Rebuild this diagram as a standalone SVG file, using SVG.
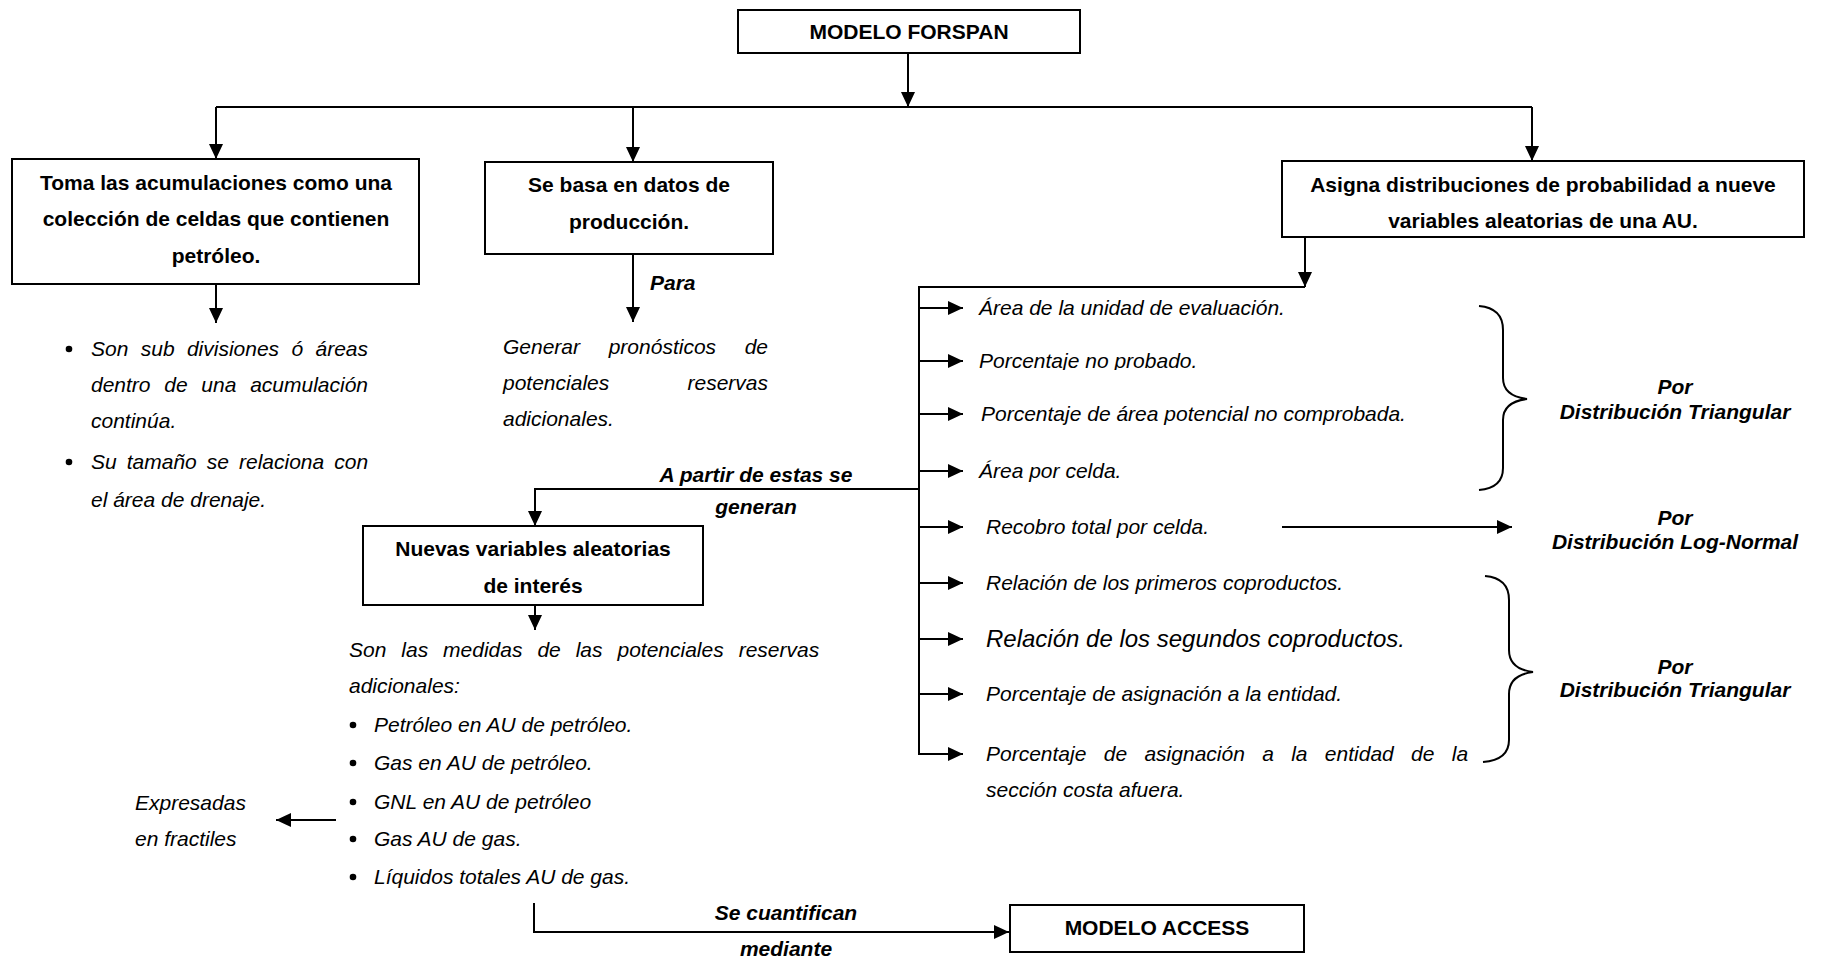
<svg xmlns="http://www.w3.org/2000/svg" width="1824" height="960" viewBox="0 0 1824 960">
<style>
.box{fill:#fff;stroke:#000;stroke-width:2}
.ln{fill:none;stroke:#000;stroke-width:2}
.b{font-family:"Liberation Sans",Arial,sans-serif;font-weight:bold;font-size:21px;fill:#000}
.bc{font-family:"Liberation Sans",Arial,sans-serif;font-weight:bold;font-size:21px;fill:#000;text-anchor:middle}
.bi{font-family:"Liberation Sans",Arial,sans-serif;font-weight:bold;font-style:italic;font-size:21px;fill:#000}
.bic{font-family:"Liberation Sans",Arial,sans-serif;font-weight:bold;font-style:italic;font-size:21px;fill:#000;text-anchor:middle}
.i{font-family:"Liberation Sans",Arial,sans-serif;font-style:italic;font-size:21px;fill:#000}
</style>
<defs>
<marker id="ah" markerUnits="userSpaceOnUse" markerWidth="16" markerHeight="16" refX="15" refY="7" orient="auto" viewBox="0 0 16 14">
<path d="M0,0 L15,7 L0,14 Z" fill="#000"/>
</marker>
<clipPath id="cut1"><rect x="970" y="290" width="400" height="28"/></clipPath>
<clipPath id="cut2"><rect x="970" y="345" width="400" height="25"/></clipPath>
</defs>

<g id="connectors">
<line class="ln" x1="908" y1="53" x2="908" y2="107" marker-end="url(#ah)"/>
<line class="ln" x1="216" y1="107" x2="1532" y2="107"/>
<line class="ln" x1="216" y1="107" x2="216" y2="159" marker-end="url(#ah)"/>
<line class="ln" x1="633" y1="107" x2="633" y2="162" marker-end="url(#ah)"/>
<line class="ln" x1="1532" y1="107" x2="1532" y2="161" marker-end="url(#ah)"/>
<line class="ln" x1="216" y1="284" x2="216" y2="323" marker-end="url(#ah)"/>
<line class="ln" x1="633" y1="254" x2="633" y2="322" marker-end="url(#ah)"/>
<line class="ln" x1="1305" y1="237" x2="1305" y2="287" marker-end="url(#ah)"/>
<polyline class="ln" points="1305,287 919,287 919,754 963,754" marker-end="url(#ah)"/>
<line class="ln" x1="919" y1="308" x2="963" y2="308" marker-end="url(#ah)"/>
<line class="ln" x1="919" y1="361" x2="963" y2="361" marker-end="url(#ah)"/>
<line class="ln" x1="919" y1="414" x2="963" y2="414" marker-end="url(#ah)"/>
<line class="ln" x1="919" y1="471" x2="963" y2="471" marker-end="url(#ah)"/>
<line class="ln" x1="919" y1="527" x2="963" y2="527" marker-end="url(#ah)"/>
<line class="ln" x1="919" y1="583" x2="963" y2="583" marker-end="url(#ah)"/>
<line class="ln" x1="919" y1="639" x2="963" y2="639" marker-end="url(#ah)"/>
<line class="ln" x1="919" y1="694" x2="963" y2="694" marker-end="url(#ah)"/>
<line class="ln" x1="1282" y1="527" x2="1512" y2="527" marker-end="url(#ah)"/>
<polyline class="ln" points="919,489 535,489 535,526" marker-end="url(#ah)"/>
<line class="ln" x1="535" y1="605" x2="535" y2="630" marker-end="url(#ah)"/>
<line class="ln" x1="336" y1="820" x2="276" y2="820" marker-end="url(#ah)"/>
<polyline class="ln" points="534,903 534,932 1009,932" marker-end="url(#ah)"/>
<path class="ln" d="M1479,306 Q1503,308 1503,330 L1503,378 Q1503,396 1527,399 Q1503,402 1503,420 L1503,468 Q1503,488 1479,490"/>
<path class="ln" d="M1485,576 Q1509,578 1509,600 L1509,650 Q1509,669 1533,672 Q1509,675 1509,694 L1509,740 Q1509,760 1483,762"/>
</g>

<g id="modelo-forspan">
<rect class="box" x="738" y="10" width="342" height="43"/>
<text class="bc" x="909" y="39">MODELO FORSPAN</text>
</g>

<g id="toma-acumulaciones">
<rect class="box" x="12" y="159" width="407" height="125"/>
<text class="bc" x="216" y="190">Toma las acumulaciones como una</text>
<text class="bc" x="216" y="226">colección de celdas que contienen</text>
<text class="bc" x="216" y="263">petróleo.</text>
</g>

<g id="celdas-notas">
<circle cx="69" cy="349" r="3.3"/>
<text class="i" x="91" y="356" word-spacing="6.5">Son sub divisiones ó áreas</text>
<text class="i" x="91" y="392" word-spacing="7.9">dentro de una acumulación</text>
<text class="i" x="91" y="428">continúa.</text>
<circle cx="69" cy="462" r="3.3"/>
<text class="i" x="91" y="469" word-spacing="4.2">Su tamaño se relaciona con</text>
<text class="i" x="91" y="507">el área de drenaje.</text>
</g>

<g id="datos-produccion">
<rect class="box" x="485" y="162" width="288" height="92"/>
<text class="bc" x="629" y="192">Se basa en datos de</text>
<text class="bc" x="629" y="229">producción.</text>
</g>

<g id="para-label"><text class="bi" x="650" y="290">Para</text></g>

<g id="pronosticos">
<text class="i" x="503" y="354" word-spacing="22.8">Generar pronósticos de</text>
<text class="i" x="503" y="390" word-spacing="72.4">potenciales reservas</text>
<text class="i" x="503" y="426">adicionales.</text>
</g>

<g id="asigna-distribuciones">
<rect class="box" x="1282" y="161" width="522" height="76"/>
<text class="bc" x="1543" y="192">Asigna distribuciones de probabilidad a nueve</text>
<text class="bc" x="1543" y="228">variables aleatorias de una AU.</text>
</g>

<g id="variables-lista">
<text class="i" x="979" y="315" clip-path="url(#cut1)">Área de la unidad de evaluación.</text>
<text class="i" x="979" y="368" clip-path="url(#cut2)">Porcentaje no probado.</text>
<text class="i" x="981" y="421">Porcentaje de área potencial no comprobada.</text>
<text class="i" x="979" y="478">Área por celda.</text>
<text class="i" x="986" y="534">Recobro total por celda.</text>
<text class="i" x="986" y="590">Relación de los primeros coproductos.</text>
<text class="i" x="986" y="647" style="font-size:24px">Relación de los segundos coproductos.</text>
<text class="i" x="986" y="701">Porcentaje de asignación a la entidad.</text>
<text class="i" x="986" y="761" word-spacing="11.5">Porcentaje de asignación a la entidad de la</text>
<text class="i" x="986" y="797">sección costa afuera.</text>
</g>

<g id="dist-triangular-1">
<text class="bic" x="1675" y="394">Por</text>
<text class="bic" x="1675" y="419">Distribución Triangular</text>
</g>
<g id="dist-lognormal">
<text class="bic" x="1675" y="525">Por</text>
<text class="bic" x="1675" y="549">Distribución Log-Normal</text>
</g>
<g id="dist-triangular-2">
<text class="bic" x="1675" y="674">Por</text>
<text class="bic" x="1675" y="697">Distribución Triangular</text>
</g>

<g id="a-partir-label">
<text class="bic" x="756" y="482">A partir de estas se</text>
<text class="bic" x="756" y="514">generan</text>
</g>

<g id="nuevas-variables">
<rect class="box" x="363" y="526" width="340" height="79"/>
<text class="bc" x="533" y="556">Nuevas variables aleatorias</text>
<text class="bc" x="533" y="593">de interés</text>
</g>

<g id="medidas-lista">
<text class="i" x="349" y="657" word-spacing="9.1">Son las medidas de las potenciales reservas</text>
<text class="i" x="349" y="693">adicionales:</text>
<circle cx="353" cy="725" r="3.3"/>
<text class="i" x="374" y="732">Petróleo en AU de petróleo.</text>
<circle cx="353" cy="763" r="3.3"/>
<text class="i" x="374" y="770">Gas en AU de petróleo.</text>
<circle cx="353" cy="802" r="3.3"/>
<text class="i" x="374" y="809">GNL en AU de petróleo</text>
<circle cx="353" cy="839" r="3.3"/>
<text class="i" x="374" y="846">Gas AU de gas.</text>
<circle cx="353" cy="877" r="3.3"/>
<text class="i" x="374" y="884">Líquidos totales AU de gas.</text>
</g>

<g id="expresadas">
<text class="i" x="135" y="810">Expresadas</text>
<text class="i" x="135" y="846">en fractiles</text>
</g>

<g id="cuantifican-label">
<text class="bic" x="786" y="920">Se cuantifican</text>
<text class="bic" x="786" y="956">mediante</text>
</g>

<g id="modelo-access">
<rect class="box" x="1010" y="905" width="294" height="47"/>
<text class="bc" x="1157" y="935">MODELO ACCESS</text>
</g>
</svg>
